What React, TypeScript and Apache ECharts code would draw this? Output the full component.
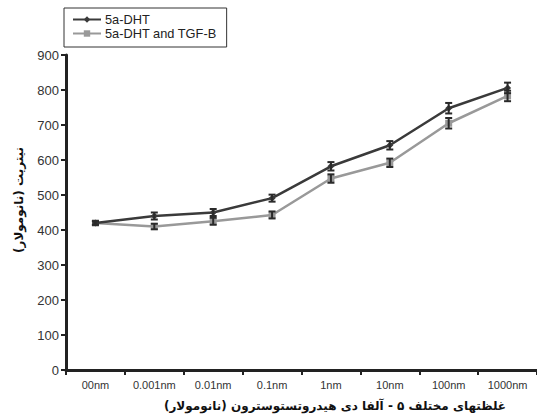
import React, { useEffect, useRef } from "react";
import * as echarts from "echarts";

const categories = ["00nm", "0.001nm", "0.01nm", "0.1nm", "1nm", "10nm", "100nm", "1000nm"];
const dhtValues = [420, 440, 450, 491, 582, 642, 748, 806];
const dhtErrors = [5, 10, 10, 10, 12, 12, 15, 15];
const tgfValues = [420, 410, 425, 443, 547, 592, 705, 783];
const tgfErrors = [5, 8, 10, 10, 12, 12, 15, 15];
const yTicks = [0, 100, 200, 300, 400, 500, 600, 700, 800, 900];
const xTitle = "غلظتهای مختلف ۵ - آلفا دی هیدروتستوسترون (نانومولار)";
const yTitle = "نیتریت (نانومولار)";

const latin = "'Liberation Sans', Arial, sans-serif";
const persian = "'DejaVu Sans', 'Noto Sans', sans-serif";

function errorSeries(values: number[], errs: number[], color: string) {
  return {
    type: "custom",
    z: 5,
    silent: true,
    data: values.map((v, i) => [i, v - errs[i], v + errs[i]]),
    renderItem: (params: any, api: any) => {
      const x = api.coord([api.value(0), api.value(1)])[0];
      const lo = api.coord([api.value(0), api.value(1)])[1];
      const hi = api.coord([api.value(0), api.value(2)])[1];
      const w = 3.5;
      const st = { stroke: color, lineWidth: 2 };
      return {
        type: "group",
        children: [
          { type: "line", shape: { x1: x, y1: lo, x2: x, y2: hi }, style: st },
          { type: "line", shape: { x1: x - w, y1: lo, x2: x + w, y2: lo }, style: st },
          { type: "line", shape: { x1: x - w, y1: hi, x2: x + w, y2: hi }, style: st },
        ],
      };
    },
  };
}

export default function App() {
  const ref = useRef<HTMLDivElement>(null);
  useEffect(() => {
    if (!ref.current) return;
    document.body.style.margin = "0";
    const chart = echarts.init(ref.current, null, { renderer: "svg" });
    chart.setOption({
      animation: false,
      backgroundColor: "#ffffff",
      grid: { left: 66, top: 55, bottom: 44, right: -11 },
      legend: {
        data: ["5a-DHT", "5a-DHT and TGF-B"],
        orient: "vertical",
        left: 64,
        top: 8,
        itemWidth: 28,
        itemHeight: 8,
        itemGap: 1,
        padding: [5, 10, 7, 8],
        borderColor: "#333",
        borderWidth: 1,
        textStyle: { fontFamily: latin, fontSize: 12.8, color: "#222", padding: [0, 0, 0, -1] },
      },
      graphic: [
        {
          type: "text",
          x: 335,
          y: 406,
          style: {
            text: xTitle,
            fontFamily: persian,
            fontSize: 12,
            fontWeight: "bold",
            fill: "#111",
            textAlign: "center",
            textVerticalAlign: "middle",
          },
        },
        {
          type: "text",
          x: 19,
          y: 200,
          rotation: Math.PI / 2,
          style: {
            text: yTitle,
            fontFamily: persian,
            fontSize: 12,
            fontWeight: "bold",
            fill: "#111",
            textAlign: "center",
            textVerticalAlign: "middle",
          },
        },
      ],
      xAxis: {
        type: "category",
        data: categories,
        boundaryGap: true,
        axisLine: { lineStyle: { color: "#222", width: 3 } },
        axisTick: { show: true, length: 5, lineStyle: { color: "#222", width: 2 } },
        axisLabel: { fontFamily: latin, fontSize: 11, color: "#333", margin: 9 },
        splitLine: { show: false },
      },
      yAxis: {
        type: "value",
        min: 0,
        max: 900,
        interval: 100,
        axisLine: { show: true, lineStyle: { color: "#222", width: 3 } },
        axisTick: { show: true, length: 5, lineStyle: { color: "#222", width: 2 } },
        axisLabel: {
          fontFamily: latin,
          fontSize: 13,
          color: "#333",
          margin: 7,
          formatter: (v: number) => (yTicks.includes(v) ? String(v) : ""),
        },
        splitLine: { show: false },
      },
      series: [
        {
          name: "5a-DHT and TGF-B",
          type: "line",
          data: tgfValues,
          symbol: "rect",
          symbolSize: 7,
          z: 3,
          itemStyle: { color: "#999999" },
          lineStyle: { color: "#999999", width: 2.5 },
        },
        {
          name: "5a-DHT",
          type: "line",
          data: dhtValues,
          symbol: "diamond",
          symbolSize: 7,
          z: 4,
          itemStyle: { color: "#3a3a3a" },
          lineStyle: { color: "#3a3a3a", width: 2.5 },
        },
        errorSeries(tgfValues, tgfErrors, "#2a2a2a"),
        errorSeries(dhtValues, dhtErrors, "#2a2a2a"),
      ],
    });
    return () => chart.dispose();
  }, []);
  return <div ref={ref} style={{ width: 537, height: 414 }} />;
}
